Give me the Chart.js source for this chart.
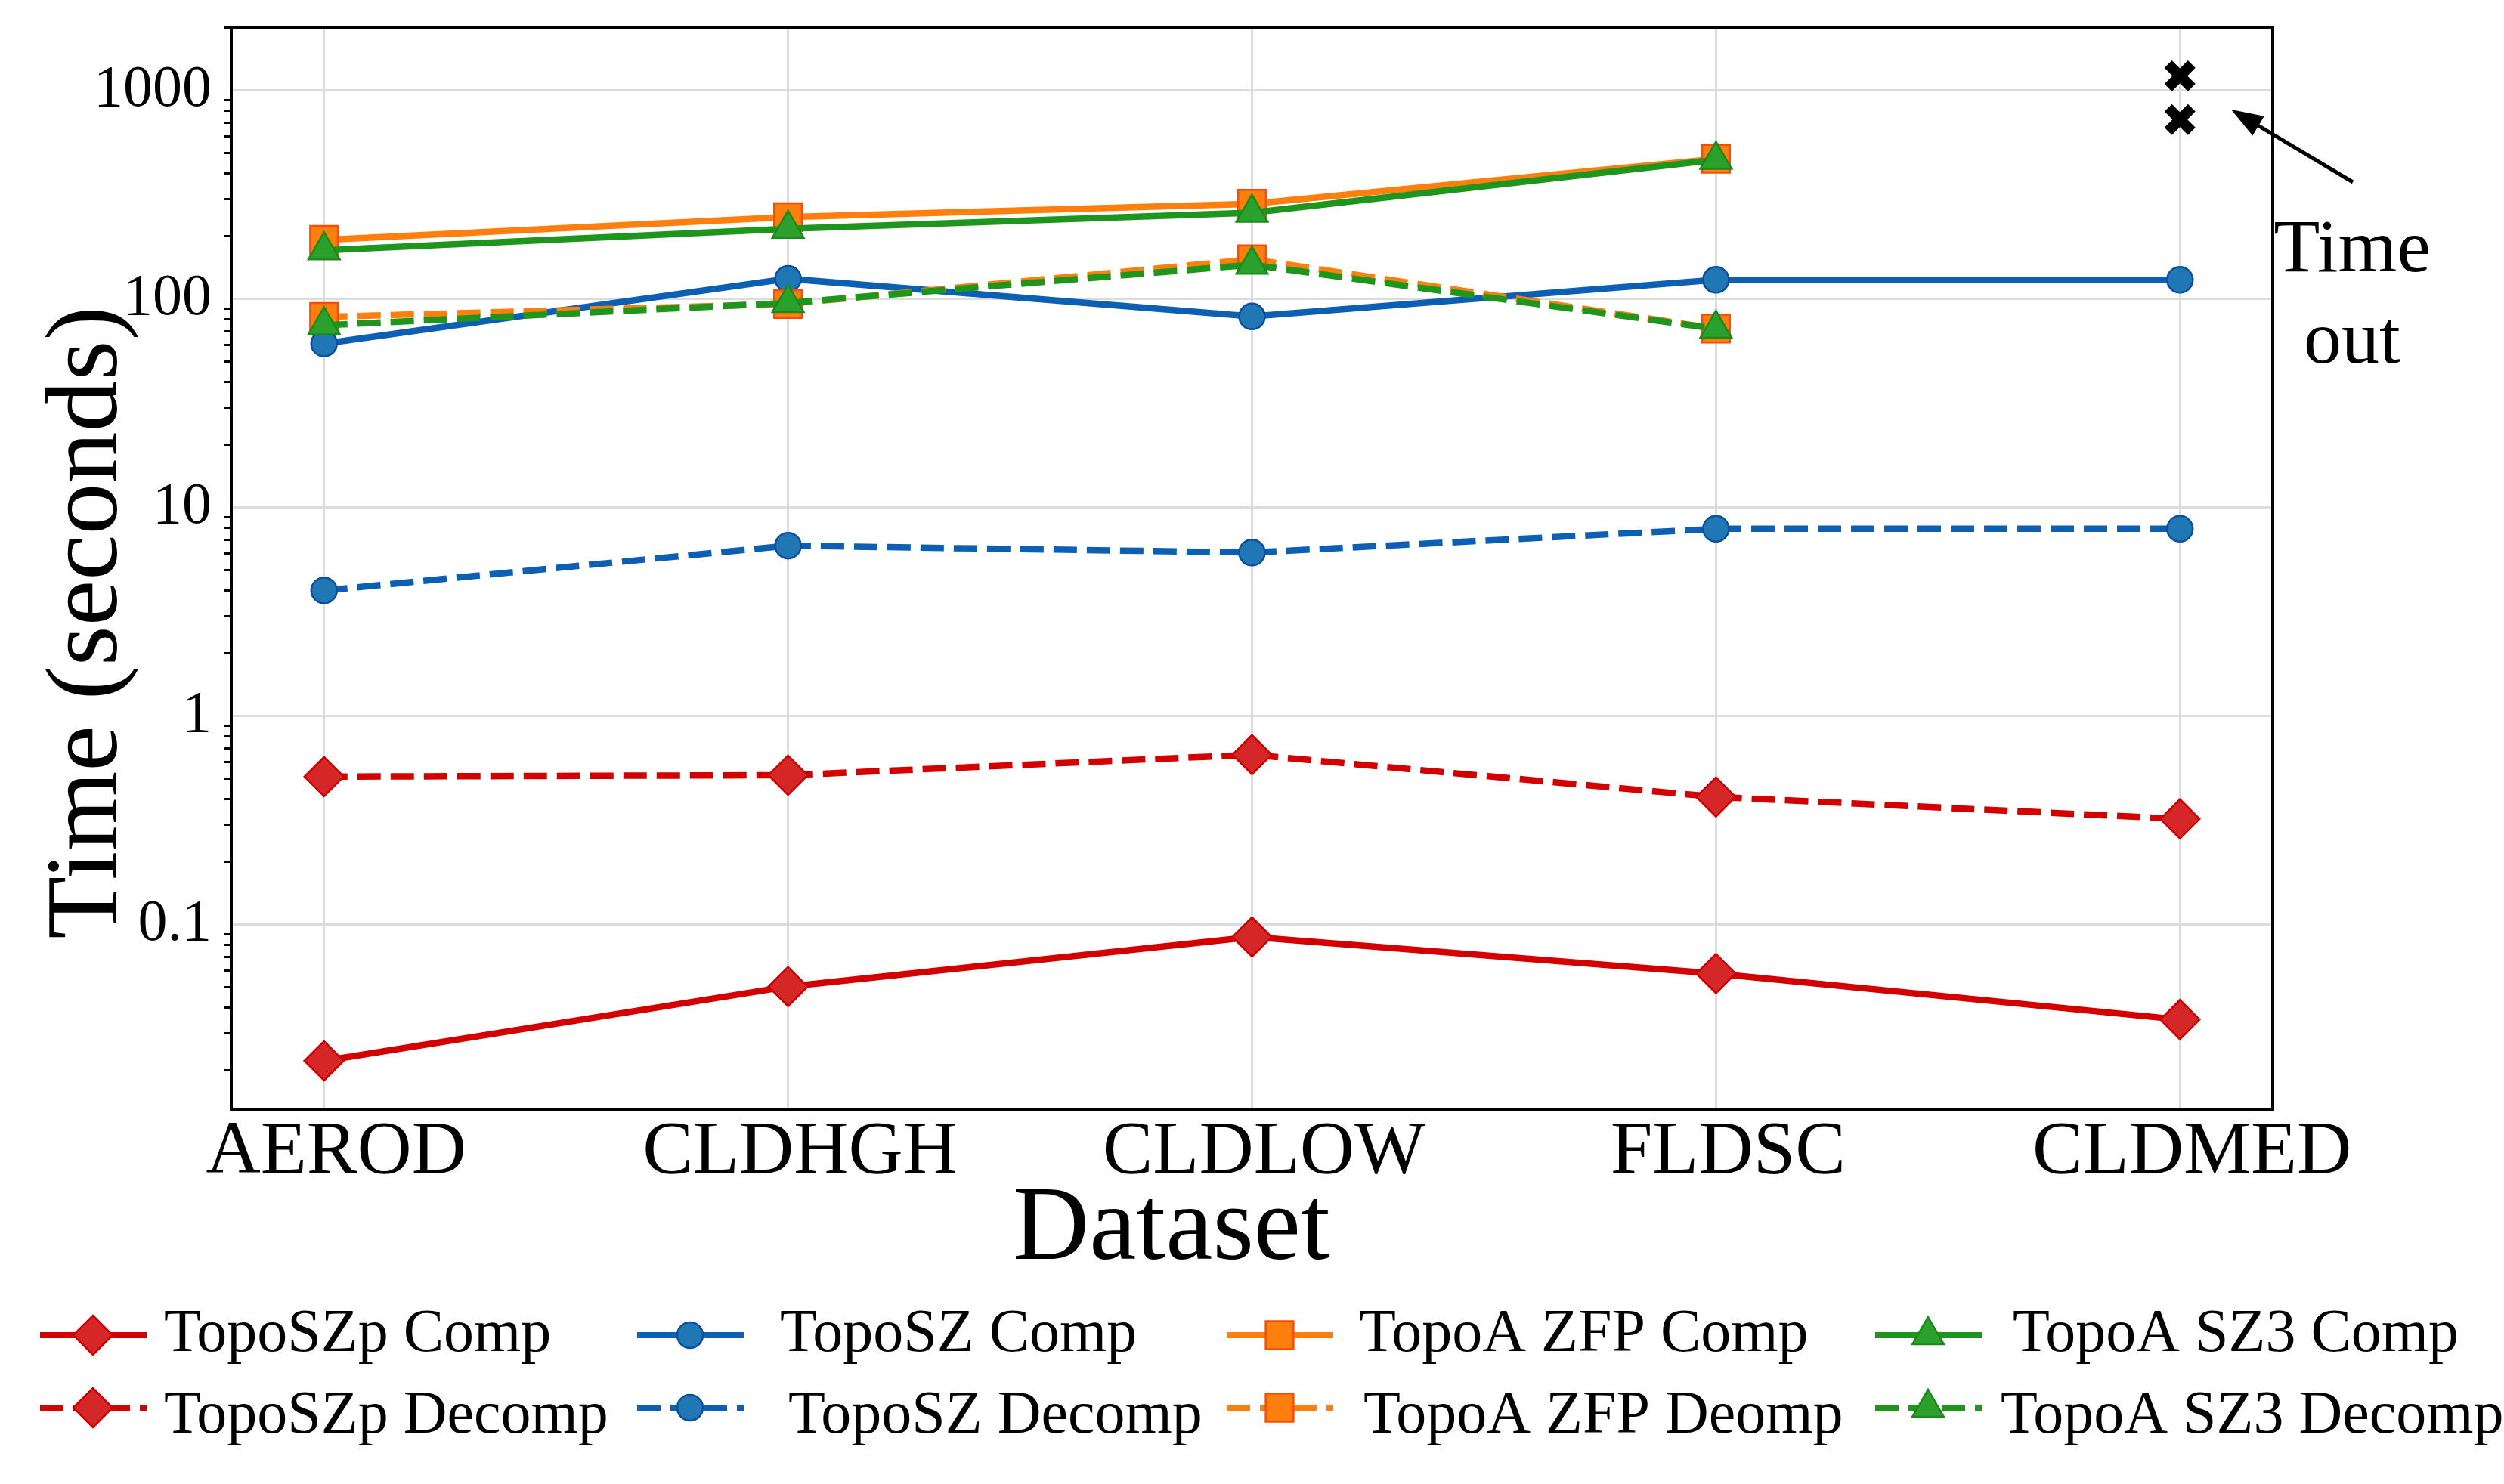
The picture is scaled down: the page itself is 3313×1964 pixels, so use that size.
<!DOCTYPE html>
<html>
<head>
<meta charset="utf-8">
<script src="https://cdn.jsdelivr.net/npm/chart.js@4.4.1/dist/chart.umd.min.js"></script>
<style>
  html, body { margin: 0; padding: 0; background: #fff; }
  canvas { display: block; }
</style>
</head>
<body>
<canvas id="grafico" width="3313" height="1964"></canvas>
<script>
// Dati del grafico (tempi in secondi)
const categorie = ['AEROD', 'CLDHGH', 'CLDLOW', 'FLDSC', 'CLDMED'];
const topoSZpComp = [0.0222, 0.0504, 0.0871, 0.0582, 0.0350];
const topoSZpDecomp = [0.512, 0.520, 0.652, 0.409, 0.321];
const topoSZComp = [61.1, 125, 82.4, 123.6, 123.6];
const topoSZDecomp = [4.0, 6.56, 6.08, 7.9, 7.9];
const topoAZfpComp = [192, 247, 286, 470, null];
const topoAZfpDecomp = [82, 94.6, 155, 72.1, null];
const topoASz3Comp = [171, 217, 259, 465, null];
const topoASz3Decomp = [74.8, 95.7, 146, 72, null];
const timeoutCategoria = 4;
const timeoutValori = [1174, 725];
const yTickLabels = [0.1, 1, 10, 100, 1000];

const Y_MIN = 0.0129;
const Y_MAX = 2010;

const stili = {
    szp: { linea: '#d40000', riemp: '#d62728', bordo: '#cc0000', punto: 'rectRot', raggio: 26 },
    sz: { linea: '#0d5fb3', riemp: '#1f77b4', bordo: '#0b4f9e', punto: 'circle', raggio: 17 },
    zfp: { linea: '#ff7f0e', riemp: '#ff7f0e', bordo: '#ff4a00', punto: 'rect', raggio: 26 },
    sz3: { linea: '#1e961e', riemp: '#2ca02c', bordo: '#1a8a1a', punto: 'triangle', raggio: 24 }
};

const DASH = [31, 13];

function serie(label, valori, st, tratteggio) {
    return {
        label: label,
        data: valori.map((v, i) => ({ x: i, y: v })).filter(p => p.y !== null),
        borderColor: st.linea,
        borderWidth: 8.5,
        borderDash: tratteggio ? DASH : [],
        pointStyle: st.punto,
        pointRadius: st.raggio,
        pointHoverRadius: st.raggio,
        pointBackgroundColor: st.riemp,
        pointBorderColor: st.bordo,
        pointBorderWidth: 2.5,
        fill: false,
        tension: 0
    };
}

const datasets = [
    serie('TopoSZp Comp', topoSZpComp, stili.szp, false),
    serie('TopoSZp Decomp', topoSZpDecomp, stili.szp, true),
    serie('TopoSZ Comp', topoSZComp, stili.sz, false),
    serie('TopoSZ Decomp', topoSZDecomp, stili.sz, true),
    serie('TopoA ZFP Comp', topoAZfpComp, stili.zfp, false),
    serie('TopoA ZFP Deomp', topoAZfpDecomp, stili.zfp, true),
    serie('TopoA SZ3 Comp', topoASz3Comp, stili.sz3, false),
    serie('TopoA SZ3 Decomp', topoASz3Decomp, stili.sz3, true)
];
datasets.forEach((d, i) => { d.order = -i; });

datasets.push({
    label: 'Time out',
    data: timeoutValori.map(v => ({ x: timeoutCategoria, y: v })),
    showLine: false,
    pointStyle: 'crossRot',
    pointRadius: 22,
    pointHoverRadius: 22,
    pointBorderWidth: 14,
    pointBorderColor: '#000',
    pointBackgroundColor: '#000',
    order: -20
});

// legenda: [indice dataset, x linea, x testo, riga]
const legenda = [
    [0, 53, 217, 0], [1, 53, 217, 1],
    [2, 843, 1032, 0], [3, 843, 1043, 1],
    [4, 1623, 1798, 0], [5, 1623, 1804, 1],
    [6, 2481, 2663, 0], [7, 2481, 2647, 1]
];
const rigaLinea = [1767, 1863];
const rigaTesto = [1788, 1896];

const FONT = "'Liberation Serif', 'Times New Roman', serif";

function isMajor(v) {
    return yTickLabels.some(t => Math.abs(t - v) / t < 1e-6);
}

const decorazioni = {
    id: 'decorazioni',
    afterDraw(chart) {
        const ctx = chart.ctx;
        const area = chart.chartArea;
        ctx.save();

        // cornice
        ctx.strokeStyle = '#000';
        ctx.lineWidth = 4;
        ctx.strokeRect(area.left, area.top, area.right - area.left, area.bottom - area.top);

        ctx.fillStyle = '#000';
        // titolo asse y
        ctx.save();
        ctx.translate(154, 824);
        ctx.rotate(-Math.PI / 2);
        ctx.font = '136px ' + FONT;
        ctx.textAlign = 'center';
        ctx.textBaseline = 'alphabetic';
        ctx.fillText('Time (seconds)', 0, 0);
        ctx.restore();

        // titolo asse x
        ctx.font = '140px ' + FONT;
        ctx.textAlign = 'center';
        ctx.textBaseline = 'alphabetic';
        ctx.fillText('Dataset', 1550, 1666);

        // annotazione time out
        ctx.font = '100px ' + FONT;
        ctx.fillText('Time', 3112, 359);
        ctx.fillText('out', 3112, 480);

        const tx = 3113, ty = 241, hx = 2952, hy = 145;
        const ang = Math.atan2(hy - ty, hx - tx);
        const lung = 42, larg = 15;
        ctx.strokeStyle = '#000';
        ctx.lineWidth = 5;
        ctx.beginPath();
        ctx.moveTo(tx, ty);
        ctx.lineTo(hx - Math.cos(ang) * lung * 0.8, hy - Math.sin(ang) * lung * 0.8);
        ctx.stroke();
        ctx.beginPath();
        ctx.moveTo(hx, hy);
        ctx.lineTo(hx - Math.cos(ang) * lung + Math.sin(ang) * larg, hy - Math.sin(ang) * lung - Math.cos(ang) * larg);
        ctx.lineTo(hx - Math.cos(ang) * lung - Math.sin(ang) * larg, hy - Math.sin(ang) * lung + Math.cos(ang) * larg);
        ctx.closePath();
        ctx.fill();

        // legenda
        legenda.forEach(([idx, xl, xt, riga]) => {
            const d = chart.data.datasets[idx];
            const y = rigaLinea[riga];
            ctx.save();
            ctx.strokeStyle = d.borderColor;
            ctx.lineWidth = 8;
            ctx.setLineDash(d.borderDash);
            ctx.beginPath();
            ctx.moveTo(xl, y);
            ctx.lineTo(xl + 141, y);
            ctx.stroke();
            ctx.setLineDash([]);
            ctx.fillStyle = d.pointBackgroundColor;
            ctx.strokeStyle = d.pointBorderColor;
            ctx.lineWidth = d.pointBorderWidth;
            Chart.helpers.drawPoint(ctx, {
                pointStyle: d.pointStyle,
                radius: d.pointRadius,
                rotation: 0,
                borderWidth: d.pointBorderWidth
            }, xl + 70, y);
            ctx.restore();

            ctx.fillStyle = '#000';
            ctx.font = '80px ' + FONT;
            ctx.textAlign = 'left';
            ctx.textBaseline = 'alphabetic';
            ctx.fillText(d.label, xt, rigaTesto[riga]);
        });

        ctx.restore();
    }
};

Chart.defaults.font.family = FONT;
Chart.defaults.color = '#000';

const ctx = document.getElementById('grafico').getContext('2d');
const myChart = new Chart(ctx, {
    type: 'line',
    data: { datasets: datasets },
    options: {
        responsive: false,
        animation: false,
        devicePixelRatio: 1,
        layout: { padding: { top: 30, left: 0, right: 306, bottom: 375 } },
        plugins: {
            legend: { display: false },
            tooltip: { enabled: false }
        },
        scales: {
            x: {
                type: 'linear',
                min: -0.2,
                max: 4.2,
                afterBuildTicks: (scale) => {
                    scale.ticks = categorie.map((c, i) => ({ value: i }));
                },
                afterFit: (scale) => {
                    scale.height = 120;
                    scale.paddingLeft = 0;
                    scale.paddingRight = 0;
                },
                ticks: {
                    autoSkip: false,
                    maxRotation: 0,
                    padding: 7,
                    labelOffset: 16,
                    font: { size: 100, lineHeight: 1 },
                    callback: (v) => categorie[v]
                },
                grid: { color: '#dcdcdc', lineWidth: 3, drawTicks: false },
                border: { color: '#000', width: 4 }
            },
            y: {
                type: 'logarithmic',
                min: Y_MIN,
                max: Y_MAX,
                afterBuildTicks: (scale) => {
                    const ticks = [];
                    for (let e = -2; e <= 3; e++) {
                        for (let k = 1; k <= 9; k++) {
                            const v = +(k * Math.pow(10, e)).toPrecision(3);
                            if (v >= Y_MIN && v <= Y_MAX) ticks.push({ value: v, major: k === 1 });
                        }
                    }
                    scale.ticks = ticks;
                },
                afterFit: (scale) => {
                    scale.width = 306;
                    scale.paddingTop = 0;
                    scale.paddingBottom = 0;
                },
                ticks: {
                    autoSkip: false,
                    padding: 17,
                    font: { size: 78, lineHeight: 0.5 },
                    callback: (v) => isMajor(v) ? String(v) : ''
                },
                grid: {
                    lineWidth: 3,
                    color: (c) => (c.tick && isMajor(c.tick.value)) ? '#dcdcdc' : 'rgba(0,0,0,0)',
                    tickLength: 9,
                    tickWidth: 3,
                    tickColor: (c) => (c.tick && isMajor(c.tick.value)) ? 'rgba(0,0,0,0)' : '#000'
                },
                border: { color: '#000', width: 4 }
            }
        }
    },
    plugins: [decorazioni]
});
</script>
</body>
</html>
